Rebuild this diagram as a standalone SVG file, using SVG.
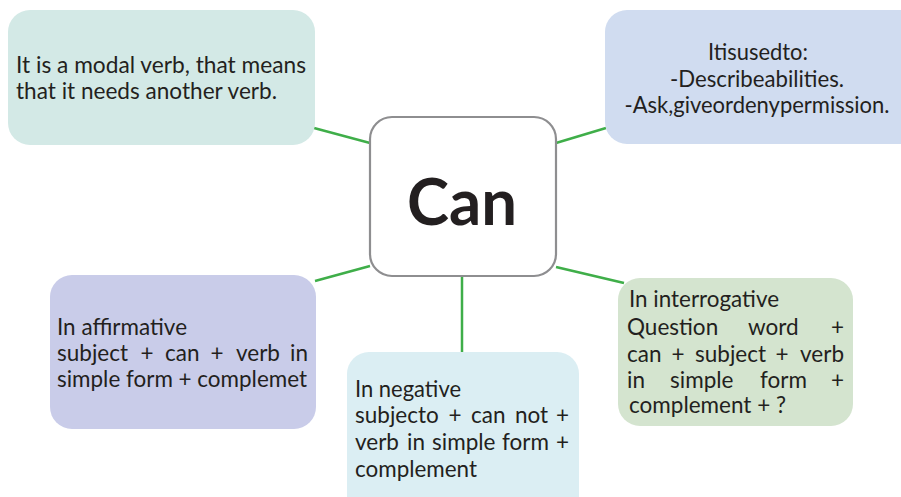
<svg xmlns="http://www.w3.org/2000/svg" width="901" height="497" viewBox="0 0 901 497">
<style>
.t{font-family:Lato,"Open Sans","Liberation Sans",sans-serif;font-size:22.5px;fill:#231f20}
.b{stroke:none}
.c{stroke:#3fae49;stroke-width:2.5;fill:none}
</style>
<rect width="901" height="497" fill="#ffffff"/>
<g id="connectors">
<line class="c" x1="314" y1="128" x2="370" y2="143"/>
<line class="c" x1="556" y1="143" x2="606" y2="128"/>
<line class="c" x1="315" y1="281" x2="370" y2="266"/>
<line class="c" x1="462" y1="276" x2="462" y2="352"/>
<line class="c" x1="556" y1="267" x2="624" y2="283"/>
</g>
<g id="node-modal">
<rect class="b" x="8" y="10" width="307" height="135" rx="22" fill="#d3e9e6"/>
<text class="t" x="16" y="73" textLength="290" lengthAdjust="spacingAndGlyphs">It is a modal verb, that means</text>
<text class="t" x="16" y="99" textLength="261" lengthAdjust="spacingAndGlyphs">that it needs another verb.</text>
</g>
<g id="node-used">
<rect class="b" x="605" y="10" width="320" height="134" rx="22" fill="#d0dcf0"/>
<text class="t" x="758" y="60" text-anchor="middle" textLength="100" lengthAdjust="spacingAndGlyphs">Itisusedto:</text>
<text class="t" x="757" y="87" text-anchor="middle" textLength="174" lengthAdjust="spacingAndGlyphs">-Describeabilities.</text>
<text class="t" x="757" y="113" text-anchor="middle" textLength="265" lengthAdjust="spacingAndGlyphs">-Ask,giveordenypermission.</text>
</g>
<g id="node-can">
<rect x="370" y="117" width="186" height="159" rx="22" fill="#ffffff" stroke="#8e8e90" stroke-width="2.2"/>
<text x="462" y="225" text-anchor="middle" font-family="Lato,'Open Sans','Liberation Sans',sans-serif" font-weight="bold" font-size="65" fill="#231f20" textLength="110" lengthAdjust="spacingAndGlyphs">Can</text>
</g>
<g id="node-affirmative">
<rect class="b" x="50" y="275" width="266" height="154" rx="22" fill="#c9cce9"/>
<text class="t" x="57" y="335" textLength="130" lengthAdjust="spacingAndGlyphs">In affirmative</text>
<text class="t" y="361"><tspan x="57">subject</tspan><tspan x="147" text-anchor="middle">+</tspan><tspan x="165">can</tspan><tspan x="217" text-anchor="middle">+</tspan><tspan x="236">verb</tspan><tspan x="308" text-anchor="end">in</tspan></text>
<text class="t" x="57" y="387" textLength="250" lengthAdjust="spacingAndGlyphs">simple form + complemet</text>
</g>
<g id="node-negative">
<rect class="b" x="347" y="352" width="232" height="170" rx="22" fill="#dbeef3"/>
<text class="t" x="355" y="397" textLength="106" lengthAdjust="spacingAndGlyphs">In negative</text>
<text class="t" y="423"><tspan x="355">subjecto</tspan><tspan x="455" text-anchor="middle">+</tspan><tspan x="471">can</tspan><tspan x="515">not</tspan><tspan x="569" text-anchor="end">+</tspan></text>
<text class="t" y="450"><tspan x="355">verb</tspan><tspan x="407">in</tspan><tspan x="432">simple</tspan><tspan x="502">form</tspan><tspan x="569" text-anchor="end">+</tspan></text>
<text class="t" x="355" y="477" textLength="122" lengthAdjust="spacingAndGlyphs">complement</text>
</g>
<g id="node-interrogative">
<rect class="b" x="618" y="278" width="235" height="148" rx="22" fill="#d4e4cf"/>
<text class="t" x="629" y="307" textLength="150" lengthAdjust="spacingAndGlyphs">In interrogative</text>
<text class="t" y="335"><tspan x="627">Question</tspan><tspan x="748">word</tspan><tspan x="844" text-anchor="end">+</tspan></text>
<text class="t" y="362"><tspan x="627">can</tspan><tspan x="678" text-anchor="middle">+</tspan><tspan x="695">subject</tspan><tspan x="782" text-anchor="middle">+</tspan><tspan x="844" text-anchor="end">verb</tspan></text>
<text class="t" y="388"><tspan x="627">in</tspan><tspan x="670">simple</tspan><tspan x="760">form</tspan><tspan x="844" text-anchor="end">+</tspan></text>
<text class="t" x="629" y="413" textLength="157" lengthAdjust="spacingAndGlyphs">complement + ?</text>
</g>
</svg>
